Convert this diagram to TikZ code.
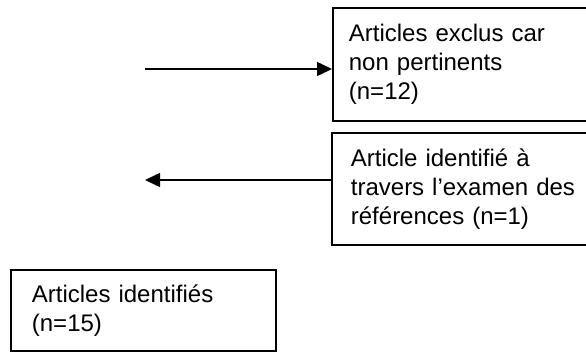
\documentclass[tikz,border=0pt]{standalone}
\usepackage{fontspec}
\setmainfont{Liberation Sans}
\usetikzlibrary{arrows.meta, positioning}

\begin{document}
\begin{tikzpicture}[x=1pt, y=-1pt, font=\fontsize{24}{29}\selectfont,
    flowbox/.style={draw, line width=1.8pt, anchor=north west, align=left, inner xsep=16pt, inner ysep=0pt},
    flowarrow/.style={-{Triangle[length=15pt, width=14pt]}, line width=1.5pt}]
  \useasboundingbox (0,0) rectangle (586,351);
  \clip (0,0) rectangle (586,351);

  % Excluded articles (box runs past the right edge)
  \node[flowbox, text width=270pt, minimum height=113pt] (exclus) at (332,7)
    {Articles exclus car\\non pertinents\\(n=12)};

  % Article added from the references
  \node[flowbox, inner xsep=19pt, text width=270pt, minimum height=112pt] (ajout) at (331,132)
    {Article identifi\'e \`a\\travers l'examen des\\r\'ef\'erences (n=1)};

  % Identified articles
  \node[flowbox, inner xsep=21pt, text width=223pt, minimum height=81pt] (identifies) at (10,269)
    {Articles identifi\'es\\(n=15)};

  % Free ends of the two arrows
  \coordinate (departA) at (145,69);
  \coordinate (arriveeB) at (145,180);

  % Arrows
  \draw[flowarrow] (departA) -- (exclus.west |- departA);
  \draw[flowarrow] (ajout.west |- arriveeB) -- (arriveeB);
\end{tikzpicture}
\end{document}
